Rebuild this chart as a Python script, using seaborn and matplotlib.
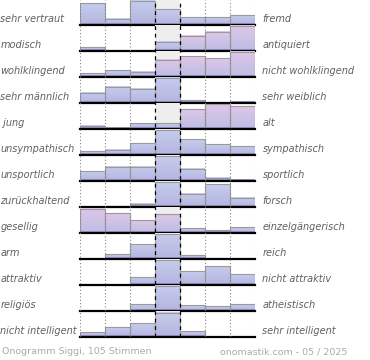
import numpy as np
import pandas as pd
import matplotlib
matplotlib.use("Agg")
import matplotlib.pyplot as plt
import matplotlib.colors as mcolors
import seaborn as sns

# Gegensatzpaare (links / rechts)
left_labels = ["sehr vertraut", "modisch", "wohlklingend", "sehr männlich", " jung",
               "unsympathisch", "unsportlich", "zurückhaltend", "gesellig", "arm",
               "attraktiv", "religiös", "nicht intelligent"]
right_labels = ["fremd", "antiquiert", "nicht wohlklingend", "sehr weiblich", "alt",
                "sympathisch", "sportlich", "forsch", "einzelgängerisch", "reich",
                "nicht attraktiv", "atheistisch", "sehr intelligent"]

# Verteilung der Stimmen auf 7 Stufen (relative Balkenhoehe, max ~25)
stufen = [1, 2, 3, 4, 5, 6, 7]
v_vertraut = [21.7, 6.3, 24.3, 15.7, 7.7, 7.7, 9.7]
v_modisch = [4.0, 0, 0, 9.3, 15.3, 19.3, 25.3]
v_wohlklingend = [4.0, 7.0, 5.3, 17.3, 21.0, 19.0, 25.5]
v_maennlich = [10.3, 16.3, 14.3, 25.0, 2.7, 0, 1.3]
v_jung = [3.3, 2.0, 6.0, 6.0, 20.0, 25.0, 22.6]
v_sympathisch = [3.7, 5.3, 12.0, 25.0, 16.0, 11.0, 9.0]
v_sportlich = [9.7, 14.3, 14.3, 25.0, 12.3, 3.3, 1.3]
v_forsch = [0, 1.0, 3.3, 25.0, 13.3, 22.7, 9.3]
v_gesellig = [24.3, 20.0, 12.7, 19.0, 5.0, 2.7, 5.7]
v_arm = [0, 5.0, 15.0, 25.0, 4.0, 0.5, 0]
v_attraktiv = [0, 0, 7.7, 25.0, 14.0, 18.7, 10.3]
v_religioes = [0, 0, 6.7, 25.0, 5.7, 4.3, 6.3]
v_intelligent = [5.0, 9.3, 13.3, 24.0, 6.0, 0, 0]

werte = [v_vertraut, v_modisch, v_wohlklingend, v_maennlich, v_jung, v_sympathisch,
         v_sportlich, v_forsch, v_gesellig, v_arm, v_attraktiv, v_religioes, v_intelligent]

# 1 = rosa Balken, 0 = blaue Balken
rosa = [
    [0, 0, 0, 0, 0, 0, 0],
    [0, 0, 0, 0, 1, 1, 1],
    [0, 0, 0, 1, 1, 1, 1],
    [0, 0, 0, 0, 1, 1, 1],
    [0, 0, 0, 0, 1, 1, 1],
    [0, 0, 0, 0, 0, 0, 0],
    [0, 0, 0, 0, 0, 0, 0],
    [0, 0, 0, 0, 0, 0, 0],
    [1, 1, 1, 1, 0, 0, 0],
    [0, 0, 0, 0, 0, 0, 0],
    [0, 0, 0, 0, 0, 0, 0],
    [0, 0, 0, 0, 0, 0, 0],
    [0, 0, 0, 0, 0, 0, 0],
]

W, H = 370, 360
X0, X1 = 80, 255
ROW_H = 25.95
BASE0 = 25.2

def fx(px):
    return px / W

def fy(py):
    return 1 - py / H

blau_oben = np.array(mcolors.to_rgb("#c6cdec"))
blau_unten = np.array(mcolors.to_rgb("#b4b4e0"))
rosa_oben = np.array(mcolors.to_rgb("#dfc7e8"))
rosa_unten = np.array(mcolors.to_rgb("#bcbde4"))
streifen = np.array(mcolors.to_rgb("#9c94c8"))

fig = plt.figure(figsize=(W / 100, H / 100), dpi=100)
fig.patch.set_facecolor("white")

label_style = dict(fontsize=7.0, style="italic", color="#606060", va="center",
                   family="DejaVu Sans")

n = len(werte)
for i in range(n):
    pb = BASE0 + ROW_H * i
    ax = fig.add_axes([fx(X0), fy(pb), (X1 - X0) / W, ROW_H / H])
    df = pd.DataFrame({"stufe": stufen, "wert": werte[i]})
    sns.barplot(data=df, x="stufe", y="wert", ax=ax, width=1, color="#c6cdec",
                saturation=1, errorbar=None, zorder=2)
    bars = list(ax.containers[0])
    for j, p in enumerate(bars):
        h = p.get_height()
        p.set_facecolor("none")
        p.set_edgecolor("#9a9a9a")
        p.set_linewidth(0.8)
        if h <= 0:
            p.set_visible(False)
            continue
        oben, unten = (rosa_oben, rosa_unten) if rosa[i][j] else (blau_oben, blau_unten)
        rows = max(int(h * 4), 2)
        t = np.linspace(0, 1, rows)[:, None]
        arr = oben * (1 - t) + unten * t
        depth = (1 - np.linspace(0, 1, rows)) * h
        arr[depth < 1.6] = streifen
        arr = arr[:, None, :]
        ax.imshow(arr, extent=[p.get_x(), p.get_x() + p.get_width(), 0, h],
                  aspect="auto", origin="upper", zorder=1.5, interpolation="nearest")
    ax.axvspan(2.5, 3.5, color="#eeeeee", zorder=0, lw=0)
    ax.axhline(0, color="black", lw=1.6, zorder=3, clip_on=False)
    ax.set_xlim(-0.5, 6.5)
    ax.set_ylim(0, ROW_H)
    ax.set_axis_off()

    fig.text(fx(0.5), fy(pb - 6), left_labels[i], ha="left", **label_style)
    fig.text(fx(262.5), fy(pb - 6), right_labels[i], ha="left", **label_style)

# Gitterlinien ueber alle Zeilen
last = BASE0 + ROW_H * (n - 1)
ov = fig.add_axes([fx(X0), fy(last), (X1 - X0) / W, last / H])
ov.patch.set_alpha(0)
ov.set_xlim(-0.5, 6.5)
ov.set_ylim(0, 1)
for x in [-0.5, 0.5, 1.5, 4.5, 5.5, 6.5]:
    ov.axvline(x, color="#888888", lw=0.8, ls=(0, (1, 2)), zorder=1)
for x in [2.5, 3.5]:
    ov.axvline(x, color="black", lw=0.9, ls=(0, (3, 3)), zorder=4)
ov.set_axis_off()

foot = dict(fontsize=6.8, color="#aaaaaa", va="center", family="DejaVu Sans")
fig.text(fx(1.5), fy(352), "Onogramm Siggi, 105 Stimmen", ha="left", **foot)
fig.text(fx(347.5), fy(352), "onomastik.com - 05 / 2025", ha="right", **foot)

fig.savefig("out.png", dpi=100)
